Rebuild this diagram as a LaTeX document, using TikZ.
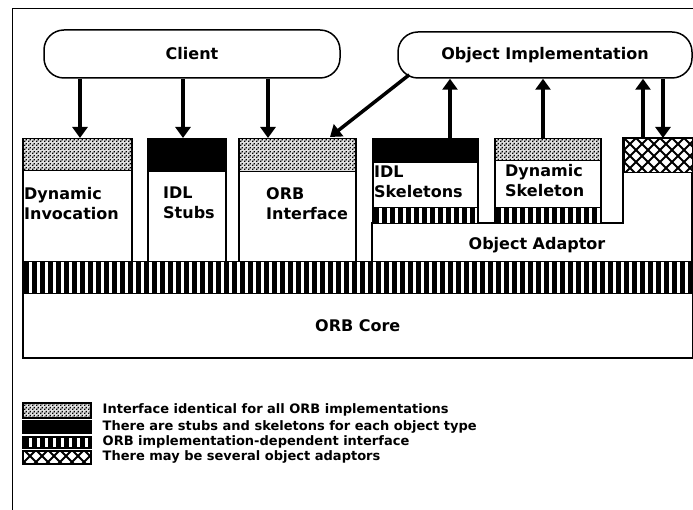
\documentclass[tikz,border=0pt]{standalone}
\usepackage{fontspec}
\setmainfont{DejaVu Sans}
\usepackage{tikz}
\usetikzlibrary{arrows.meta,positioning,calc,patterns}

%% patterns for the layers
\pgfdeclarepatternformonly{stipple}{\pgfpointorigin}{\pgfpoint{4pt}{4pt}}{\pgfpoint{4pt}{4pt}}{%
	\pgfpathrectangle{\pgfpointorigin}{\pgfpoint{1.6pt}{1.6pt}}%
	\pgfpathrectangle{\pgfpoint{2pt}{2pt}}{\pgfpoint{1.6pt}{1.6pt}}\pgfusepath{fill}}
\pgfdeclarepatternformonly{diamonds}{\pgfpoint{-1pt}{-1pt}}{\pgfpoint{13pt}{13pt}}{\pgfpoint{12pt}{12pt}}{%
	\pgfsetlinewidth{2pt}%
	\pgfpathmoveto{\pgfpoint{0pt}{0pt}}\pgfpathlineto{\pgfpoint{12pt}{12pt}}%
	\pgfpathmoveto{\pgfpoint{0pt}{12pt}}\pgfpathlineto{\pgfpoint{12pt}{0pt}}%
	\pgfusepath{stroke}}

\tikzset{
	pill/.style={draw, line width=1.5pt, rounded corners=20pt, align=center,
		font=\bfseries\fontsize{16}{19}\selectfont},
	layerbox/.style={draw, line width=1.5pt, anchor=north west, inner sep=0pt},
	boxlabel/.style={anchor=north west, align=left, inner sep=0pt,
		font=\bfseries\fontsize{16}{20}\selectfont},
	stippleband/.style={layerbox, fill=gray!25, postaction={pattern=stipple}},
	blackband/.style={layerbox, fill=black},
	barband/.style={layerbox, fill=white, path picture={
			\foreach \k in {0,...,85}
			\fill[black] ([xshift=\k*8pt+1.5pt]path picture bounding box.south west)
			rectangle ([xshift=\k*8pt+6.5pt]path picture bounding box.north west);}},
	hatchband/.style={layerbox, fill=white, postaction={pattern=diamonds}},
	bigarrow/.style={line width=3.5pt, -{Triangle[width=15pt,length=11pt]}},
	legendtext/.style={anchor=west, inner sep=0pt, font=\bfseries\fontsize{13}{15}\selectfont}
}

\begin{document}
\begin{tikzpicture}[x=1pt, y=-1pt]
	\useasboundingbox (0,0) rectangle (693,510);
	
	%% -- outer frame (cut at right and bottom)
	\draw[line width=1pt] (12,510) -- (12,9) -- (693,9);
	
	%% -- Client and object implementation
	\node[pill, minimum width=296pt, minimum height=48pt] (client) at (192,54) {Client};
	\node[pill, minimum width=294pt, minimum height=46pt] (objimpl) at (545,55) {Object Implementation};
	
	%% -- client side boxes
	\node[layerbox, minimum width=109pt, minimum height=123pt] (dyninv) at (22,138) {};
	\node[stippleband, minimum width=109pt, minimum height=32pt] (dyninvtop) at (22,138) {};
	\node[boxlabel] (dyninvtxt) at (24,187) {Dynamic\\Invocation};
	
	\node[layerbox, minimum width=78pt, minimum height=123pt] (stubs) at (147,138) {};
	\node[blackband, minimum width=78pt, minimum height=33pt] (stubstop) at (147,138) {};
	\node[boxlabel] (stubstxt) at (163,187) {IDL\\Stubs};
	
	\node[layerbox, minimum width=117pt, minimum height=123pt] (orbif) at (238,138) {};
	\node[stippleband, minimum width=117pt, minimum height=33pt] (orbiftop) at (238,138) {};
	\node[boxlabel] (orbiftxt) at (266,187) {ORB\\Interface};
	
	%% -- object adaptor with its skeletons
	\draw[line width=1.5pt, fill=white] (372,261) -- (372,223) -- (623,223) -- (623,138) -- (692,138) -- (692,261);
	\node[font=\bfseries\fontsize{16}{19}\selectfont] (adaptortxt) at (537,245) {Object Adaptor};
	\node[hatchband, minimum width=69pt, minimum height=34pt] (adaptortop) at (623,138) {};
	
	\node[layerbox, fill=white, minimum width=105pt, minimum height=85pt] (skel) at (372,138) {};
	\node[blackband, minimum width=105pt, minimum height=24pt] (skeltop) at (372,138) {};
	\node[barband, minimum width=105pt, minimum height=16pt] (skelbot) at (372,207) {};
	\node[boxlabel] (skeltxt) at (374,166) {IDL\\Skeletons};
	
	\node[layerbox, fill=white, minimum width=106pt, minimum height=85pt] (dynskel) at (494,138) {};
	\node[stippleband, minimum width=106pt, minimum height=22pt] (dynskeltop) at (494,138) {};
	\node[barband, minimum width=106pt, minimum height=16pt] (dynskelbot) at (494,207) {};
	\node[boxlabel] (dynskeltxt) at (505,164) {Dynamic\\Skeleton};
	
	%% -- ORB layer and core
	\node[barband, minimum width=670pt, minimum height=32pt] (orbbar) at (22,261) {};
	\node[layerbox, minimum width=670pt, minimum height=64pt] (core) at (22,293) {};
	\node[font=\bfseries\fontsize{16}{19}\selectfont] (coretxt) at (core.center) {ORB Core};
	
	%% -- arrow end points on the box tops
	\coordinate (c1) at ($(dyninv.north west)+(58,0)$);
	\coordinate (c2) at ($(stubs.north west)+(36,0)$);
	\coordinate (c3) at ($(orbif.north west)+(30,0)$);
	\coordinate (c4) at ($(orbif.north west)+(92,-1)$);
	\coordinate (o1) at ($(skel.north west)+(78,0)$);
	\coordinate (o2) at ($(dynskel.north west)+(49,0)$);
	\coordinate (o3) at ($(adaptortop.north west)+(20,0)$);
	\coordinate (o4) at ($(adaptortop.north west)+(40,0)$);
	\coordinate (d0) at ($(objimpl.south west)+(12,-4)$);
	
	%% -- Client calls down
	\draw[bigarrow] (client.south -| c1) -- (c1);
	\draw[bigarrow] (client.south -| c2) -- (c2);
	\draw[bigarrow] (client.south -| c3) -- (c3);
	
	%% -- up-calls into the implementation
	\draw[bigarrow] (o1) -- (objimpl.south -| o1);
	\draw[bigarrow] (o2) -- (objimpl.south -| o2);
	\draw[bigarrow] (o3) -- (objimpl.south -| o3);
	\draw[bigarrow] (objimpl.south -| o4) -- (o4);
	\draw[bigarrow] (d0) -- (c4);
	
	%% -- legend
	\node[stippleband, minimum width=68pt, minimum height=15pt] (lg1) at (22,402) {};
	\node[blackband, minimum width=68pt, minimum height=12pt] (lg2) at (22,420) {};
	\node[barband, minimum width=68pt, minimum height=11pt] (lg3) at (22,436) {};
	\node[hatchband, minimum width=68pt, minimum height=13pt] (lg4) at (22,450) {};
	\node[legendtext, right=11pt of lg1] (lt1) {Interface identical for all ORB implementations};
	\node[legendtext, right=11pt of lg2] (lt2) {There are stubs and skeletons for each object type};
	\node[legendtext, right=11pt of lg3] (lt3) {ORB implementation-dependent interface};
	\node[legendtext, right=11pt of lg4] (lt4) {There may be several object adaptors};
	
\end{tikzpicture}
\end{document}
